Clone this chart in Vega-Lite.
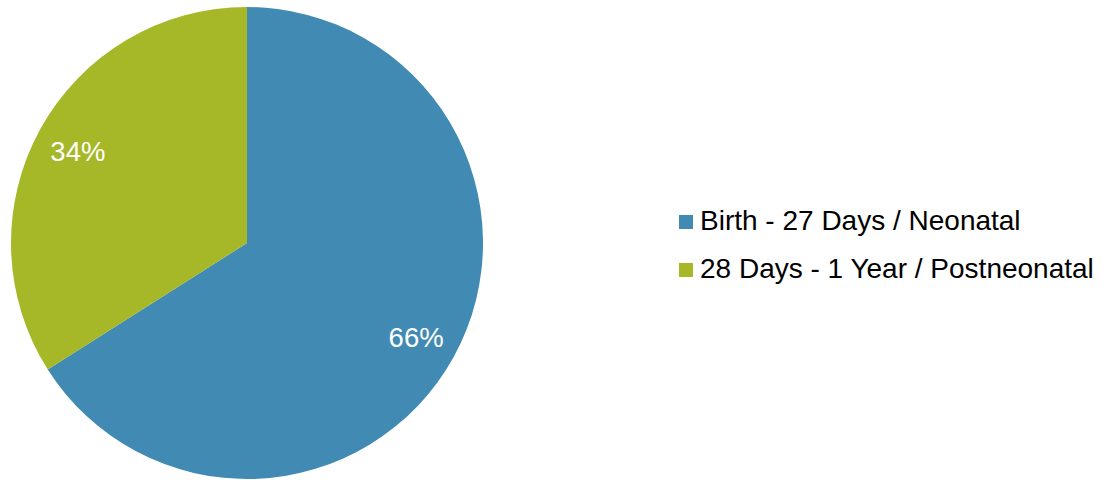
{
  "$schema": "https://vega.github.io/schema/vega-lite/v6.json",
  "width": 494,
  "height": 486,
  "padding": {"left": 0, "top": 0, "right": 615, "bottom": 0},
  "autosize": {"type": "none"},
  "background": "white",
  "config": {"view": {"stroke": null}, "font": "Liberation Sans"},
  "data": {
    "values": [
      {"category": "Birth - 27 Days / Neonatal", "share": 0.66, "rank": 1},
      {"category": "28 Days - 1 Year / Postneonatal", "share": 0.34, "rank": 2}
    ]
  },
  "encoding": {
    "theta": {"field": "share", "type": "quantitative", "stack": true},
    "order": {"field": "rank", "type": "quantitative"},
    "color": {
      "field": "category",
      "type": "nominal",
      "scale": {
        "domain": ["Birth - 27 Days / Neonatal", "28 Days - 1 Year / Postneonatal"],
        "range": ["#418AB3", "#A6B727"]
      },
      "legend": {
        "title": null,
        "orient": "none",
        "legendX": 672,
        "legendY": 208,
        "padding": 0,
        "symbolType": "square",
        "symbolSize": 196,
        "symbolStrokeWidth": 0,
        "labelFontSize": 28,
        "labelColor": "#000000",
        "labelFont": "Liberation Sans",
        "labelOffset": 0,
        "rowPadding": 20,
        "labelLimit": 600
      }
    }
  },
  "layer": [
    {"mark": {"type": "arc", "outerRadius": 236, "stroke": "white", "strokeWidth": 0}},
    {
      "mark": {"type": "text", "radius": 193, "dy": 3, "fontSize": 27.5, "color": "white", "font": "Liberation Sans", "baseline": "middle", "align": "center"},
      "encoding": {"text": {"field": "share", "type": "quantitative", "format": ".0%"}, "color": {"value": "white"}}
    }
  ]
}
